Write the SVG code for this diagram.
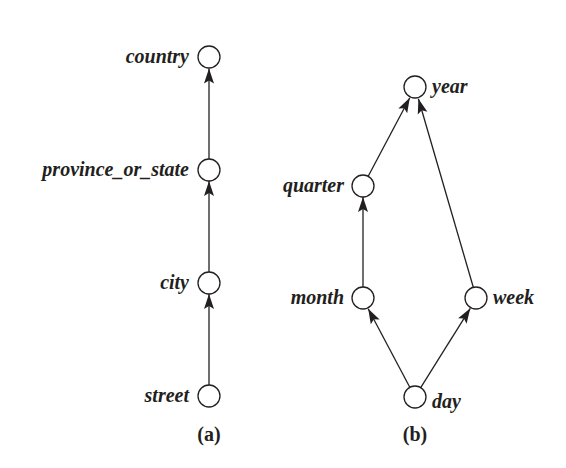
<svg xmlns="http://www.w3.org/2000/svg" width="566" height="468" viewBox="0 0 566 468">
<style>
.n{fill:#fff;stroke:#231f20;stroke-width:1.3}
.t{font-family:"Liberation Serif",serif;font-weight:bold;font-style:italic;font-size:20px;fill:#231f20}
.c{font-family:"Liberation Serif",serif;font-weight:bold;font-size:20px;fill:#231f20}
.e{stroke:#231f20;stroke-width:1.3;fill:none;marker-end:url(#ah)}
</style>
<defs>
<marker id="ah" markerUnits="userSpaceOnUse" markerWidth="16" markerHeight="12" refX="15" refY="5.5" orient="auto">
<path d="M0,0.5 L15,5.5 L0,10.5 L3,5.5 Z" fill="#231f20"/>
</marker>
</defs>
<rect width="566" height="468" fill="#fff"/>
<g id="connectors">
<line class="e" x1="209" y1="159" x2="209" y2="68.5"/>
<line class="e" x1="209" y1="272" x2="209" y2="181"/>
<line class="e" x1="209" y1="385" x2="209" y2="294"/>
<line class="e" x1="363" y1="288" x2="363" y2="197"/>
<line class="e" x1="368.2" y1="176.3" x2="409.8" y2="97.7"/>
<line class="e" x1="473.6" y1="288.3" x2="418.4" y2="98.7"/>
<line class="e" x1="409.8" y1="387.3" x2="368.2" y2="308.7"/>
<line class="e" x1="420.7" y1="387.7" x2="470.3" y2="308.3"/>
</g>
<g id="country"><circle class="n" cx="209" cy="57" r="11"/><text class="t" x="189" y="63" text-anchor="end">country</text></g>
<g id="province_or_state"><circle class="n" cx="209" cy="170" r="11"/><text class="t" x="189" y="176" text-anchor="end">province_or_state</text></g>
<g id="city"><circle class="n" cx="209" cy="283" r="11"/><text class="t" x="189" y="289" text-anchor="end">city</text></g>
<g id="street"><circle class="n" cx="209" cy="396" r="11"/><text class="t" x="189" y="402" text-anchor="end">street</text></g>
<g id="year"><circle class="n" cx="415" cy="87" r="11"/><text class="t" x="432" y="93">year</text></g>
<g id="quarter"><circle class="n" cx="363" cy="186" r="11"/><text class="t" x="344" y="192" text-anchor="end">quarter</text></g>
<g id="month"><circle class="n" cx="363" cy="298" r="11"/><text class="t" x="344" y="304" text-anchor="end">month</text></g>
<g id="week"><circle class="n" cx="476" cy="298" r="11"/><text class="t" x="493" y="304">week</text></g>
<g id="day"><circle class="n" cx="415" cy="397" r="11"/><text class="t" x="432" y="408">day</text></g>
<text class="c" x="209" y="441" text-anchor="middle">(a)</text>
<text class="c" x="415" y="441" text-anchor="middle">(b)</text>
</svg>
